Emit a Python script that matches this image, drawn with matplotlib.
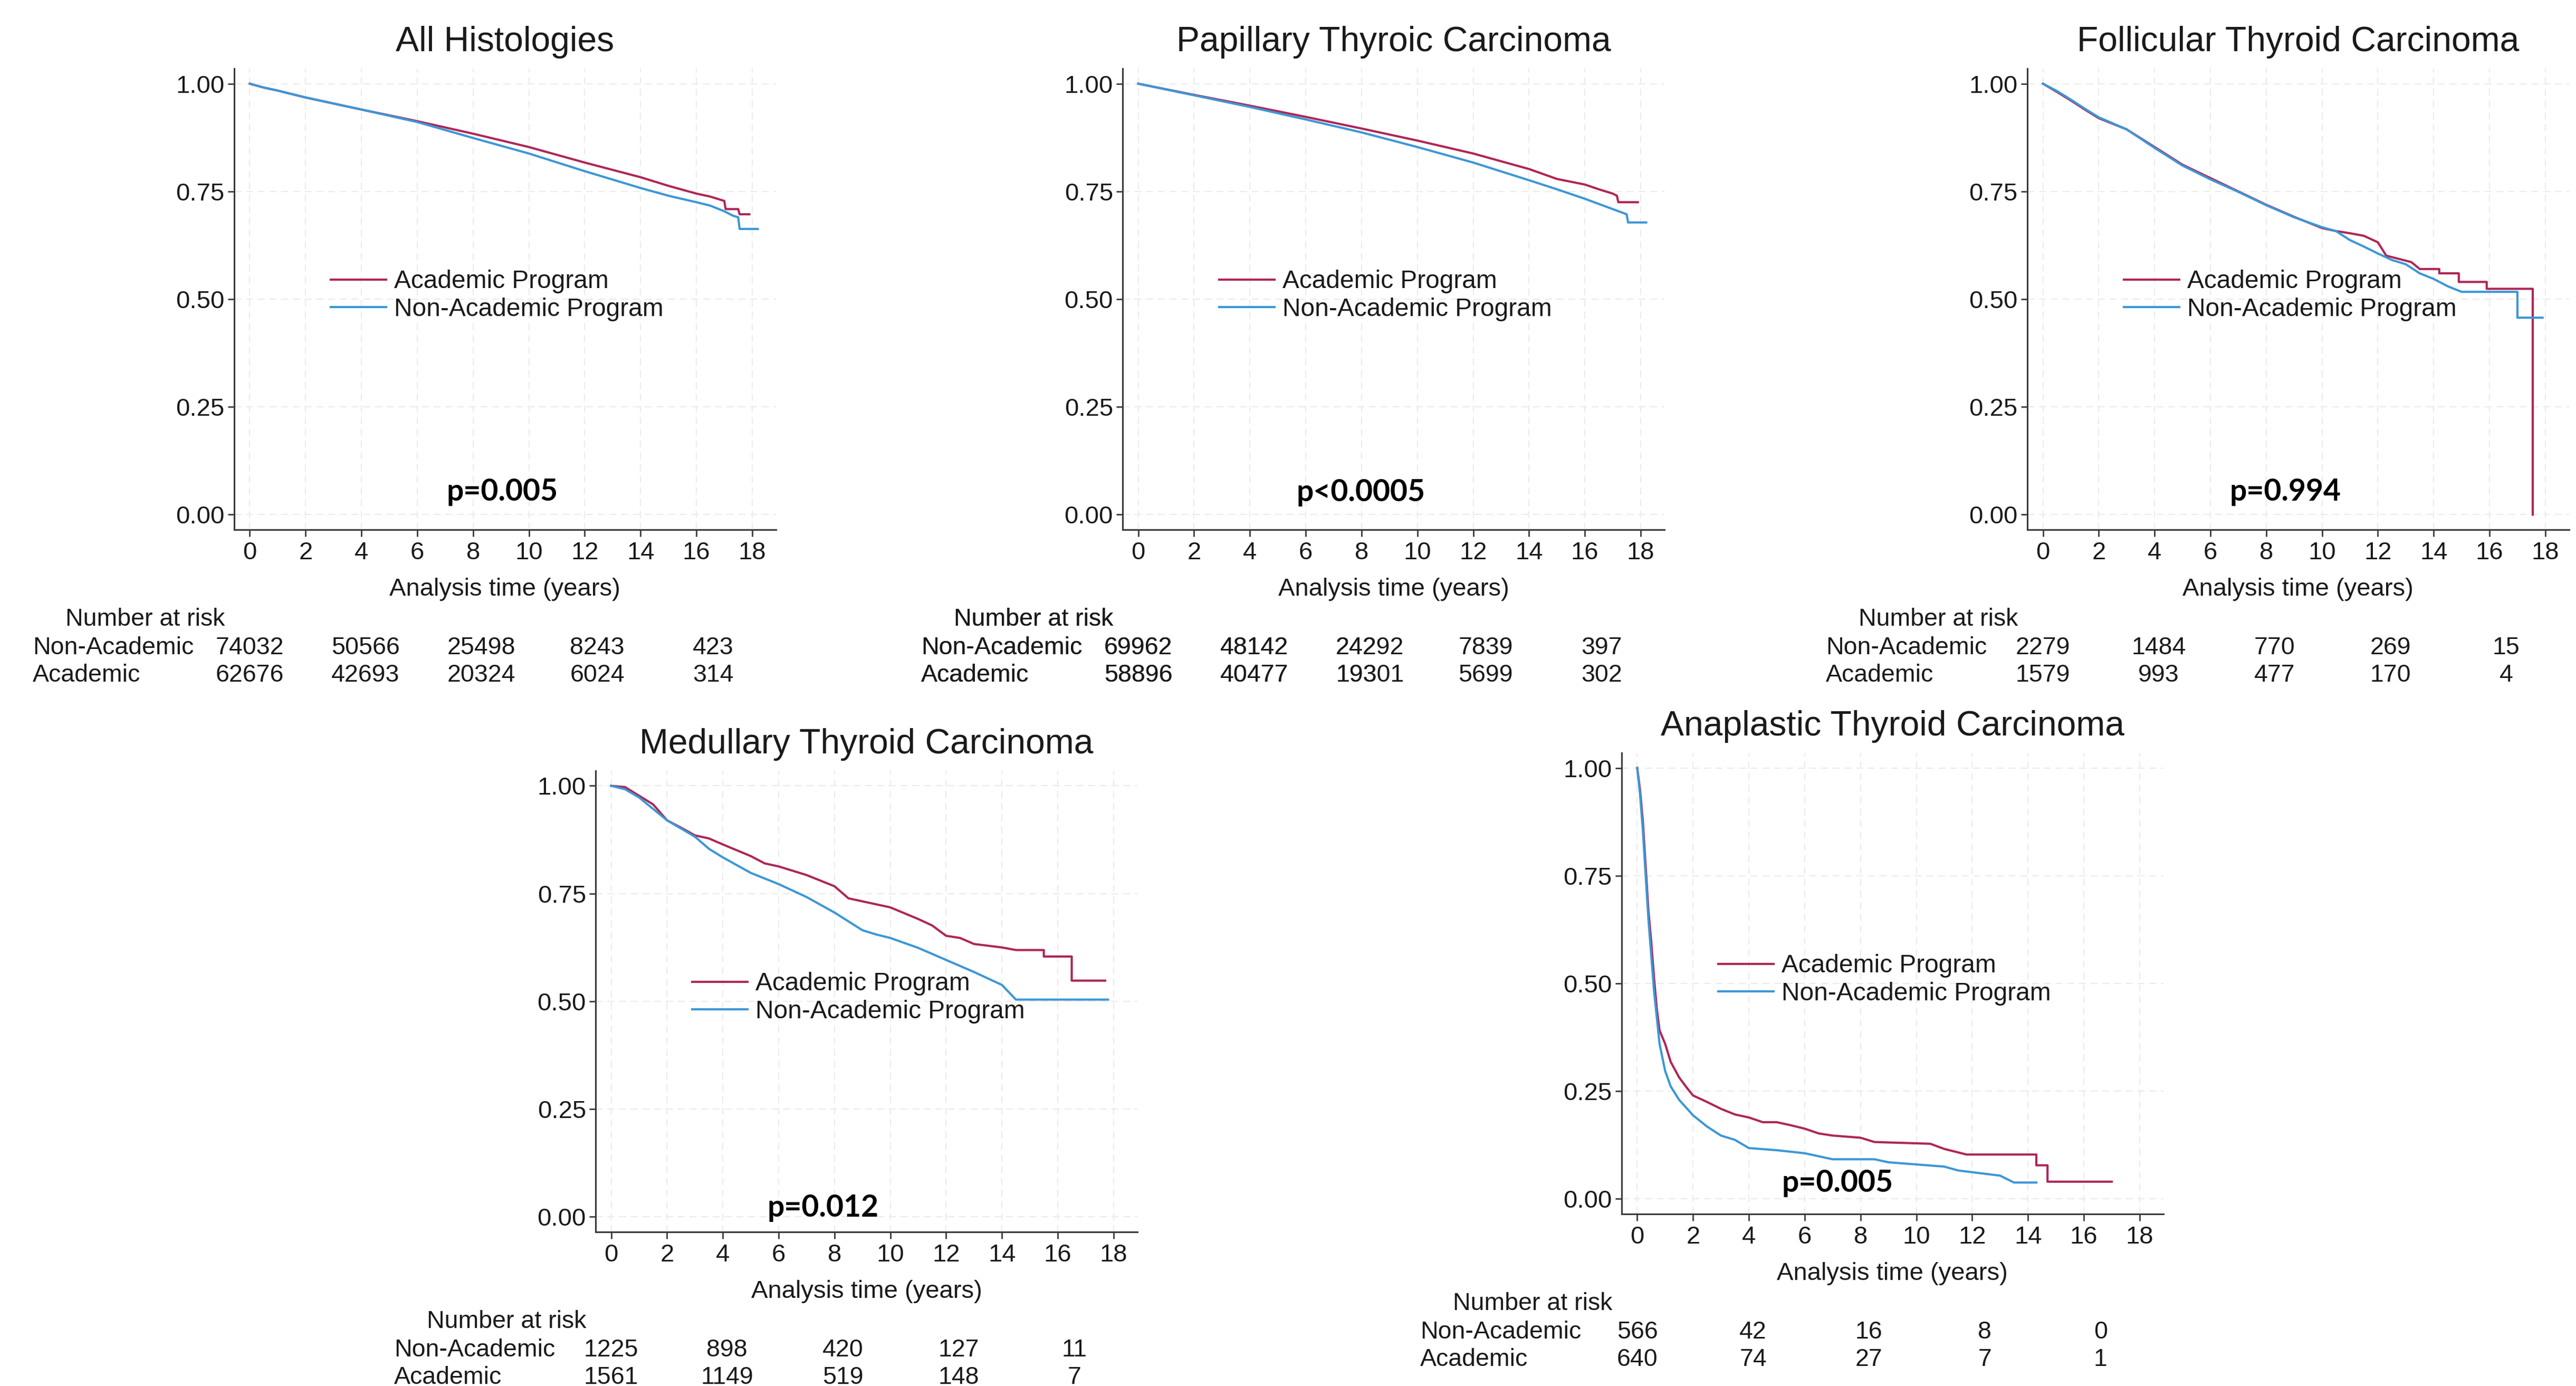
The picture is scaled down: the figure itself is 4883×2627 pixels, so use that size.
import numpy as np
from matplotlib import pyplot as plt
from matplotlib import transforms

# ---- values ----
titles = ["All Histologies", "Papillary Thyroic Carcinoma", "Follicular Thyroid Carcinoma",
          "Medullary Thyroid Carcinoma", "Anaplastic Thyroid Carcinoma"]
p_values = ["p=0.005", "p<0.0005", "p=0.994", "p=0.012", "p=0.005"]

# All histologies
ah_t_acad = [0, 0.5, 1, 2, 4, 6, 8, 10, 12, 14, 15, 16, 16.5, 17.0, 17.05, 17.5, 17.55, 17.9]
ah_s_acad = [1.0, 0.991, 0.984, 0.968, 0.940, 0.913, 0.884, 0.853, 0.817, 0.783, 0.763, 0.745,
             0.738, 0.728, 0.709, 0.709, 0.697, 0.697]
ah_t_non = [0, 0.5, 1, 2, 4, 6, 8, 10, 12, 14, 15, 16, 16.5, 17.0, 17.3, 17.5, 17.55, 18.2]
ah_s_non = [1.0, 0.991, 0.984, 0.968, 0.940, 0.911, 0.874, 0.838, 0.797, 0.758, 0.740, 0.725,
            0.717, 0.704, 0.694, 0.690, 0.663, 0.663]

# Papillary
pt_t_acad = [0, 2, 4, 6, 8, 10, 12, 14, 15, 16, 16.5, 17.0, 17.15, 17.2, 17.9]
pt_s_acad = [1.0, 0.974, 0.949, 0.923, 0.896, 0.868, 0.838, 0.802, 0.779, 0.766, 0.755, 0.745,
             0.740, 0.725, 0.725]
pt_t_non = [0, 2, 4, 6, 8, 10, 12, 14, 15, 16, 17, 17.5, 17.55, 18.2]
pt_s_non = [1.0, 0.973, 0.946, 0.917, 0.887, 0.853, 0.817, 0.776, 0.755, 0.733, 0.709, 0.697,
            0.678, 0.678]

# Follicular
fc_t_acad = [0, 0.5, 1, 1.5, 2, 3, 4, 5, 6, 7, 8, 9, 10, 10.5, 11, 11.5, 12, 12.3, 13.2, 13.5,
             14.2, 14.2, 14.9, 14.9, 15.9, 15.9, 17.55, 17.55]
fc_s_acad = [1.0, 0.981, 0.961, 0.940, 0.920, 0.894, 0.853, 0.812, 0.781, 0.750, 0.719, 0.691,
             0.665, 0.658, 0.653, 0.647, 0.632, 0.601, 0.586, 0.570, 0.570, 0.560, 0.560, 0.540,
             0.540, 0.524, 0.524, 0.0]
fc_t_non = [0, 0.5, 1, 1.5, 2, 3, 4, 5, 6, 7, 8, 9, 10, 10.5, 11, 11.5, 12, 12.5, 13, 13.5, 14,
            14.5, 15, 17.0, 17.0, 17.9]
fc_s_non = [1.0, 0.983, 0.963, 0.942, 0.922, 0.894, 0.851, 0.810, 0.778, 0.749, 0.718, 0.690,
            0.667, 0.658, 0.637, 0.622, 0.606, 0.591, 0.581, 0.560, 0.547, 0.530, 0.517, 0.517,
            0.457, 0.457]

# Medullary
mt_t_acad = [0, 0.5, 1, 1.5, 2, 2.5, 3, 3.5, 4, 5, 5.5, 6, 7, 8, 8.5, 9, 10, 11, 11.5, 12, 12.5,
             13, 14, 14.5, 15.5, 15.5, 16.5, 16.5, 17.7]
mt_s_acad = [1.0, 0.997, 0.977, 0.957, 0.920, 0.903, 0.885, 0.878, 0.864, 0.837, 0.820, 0.813,
             0.793, 0.767, 0.739, 0.732, 0.718, 0.691, 0.676, 0.652, 0.647, 0.633, 0.625, 0.619,
             0.619, 0.604, 0.604, 0.548, 0.548]
mt_t_non = [0, 0.5, 1, 2, 3, 3.5, 4, 5, 6, 7, 8, 9, 9.5, 10, 11, 12, 13, 14, 14.5, 17.8]
mt_s_non = [1.0, 0.992, 0.973, 0.920, 0.882, 0.854, 0.834, 0.798, 0.772, 0.742, 0.706, 0.665,
            0.655, 0.647, 0.624, 0.596, 0.568, 0.538, 0.504, 0.504]

# Anaplastic
at_t_acad = [0, 0.1, 0.2, 0.3, 0.4, 0.5, 0.6, 0.7, 0.8, 1.0, 1.2, 1.5, 1.8, 2.0, 2.5, 3.0, 3.5,
             4.0, 4.5, 5.0, 5.5, 6.0, 6.5, 7.0, 8.0, 8.5, 10.5, 11.0, 11.8, 14.3, 14.3, 14.7,
             14.7, 17.0]
at_s_acad = [1.0, 0.95, 0.878, 0.774, 0.670, 0.598, 0.515, 0.442, 0.391, 0.360, 0.318, 0.282,
             0.256, 0.240, 0.225, 0.209, 0.196, 0.189, 0.178, 0.178, 0.171, 0.163, 0.152, 0.147,
             0.142, 0.132, 0.128, 0.116, 0.103, 0.103, 0.078, 0.078, 0.040, 0.040]
at_t_non = [0, 0.1, 0.2, 0.3, 0.4, 0.5, 0.6, 0.7, 0.8, 1.0, 1.2, 1.5, 2.0, 2.5, 3.0, 3.5, 4.0,
            5.0, 6.0, 7.0, 8.5, 9.0, 10.0, 11.0, 11.5, 13.0, 13.5, 14.3]
at_s_non = [1.0, 0.94, 0.857, 0.753, 0.65, 0.567, 0.484, 0.422, 0.360, 0.297, 0.261, 0.230,
            0.194, 0.168, 0.147, 0.137, 0.118, 0.113, 0.106, 0.092, 0.092, 0.085, 0.080, 0.075,
            0.066, 0.054, 0.038, 0.038]

# number at risk tables
risk_non = [[74032, 50566, 25498, 8243, 423],
            [69962, 48142, 24292, 7839, 397],
            [2279, 1484, 770, 269, 15],
            [1225, 898, 420, 127, 11],
            [566, 42, 16, 8, 0]]
risk_acad = [[62676, 42693, 20324, 6024, 314],
             [58896, 40477, 19301, 5699, 302],
             [1579, 993, 477, 170, 4],
             [1561, 1149, 519, 148, 7],
             [640, 74, 27, 7, 1]]

curves = [(ah_t_acad, ah_s_acad, ah_t_non, ah_s_non),
          (pt_t_acad, pt_s_acad, pt_t_non, pt_s_non),
          (fc_t_acad, fc_s_acad, fc_t_non, fc_s_non),
          (mt_t_acad, mt_s_acad, mt_t_non, mt_s_non),
          (at_t_acad, at_s_acad, at_t_non, at_s_non)]

# ---- layout ----
axes_pos = [(0.0909, 0.6178), (0.4358, 0.6178), (0.7870, 0.6178), (0.2312, 0.1112), (0.6295, 0.1241)]
ax_w, ax_h = 0.2103, 0.3327
p_pos = [(9.05, 0.053), (7.97, 0.051), (8.68, 0.053), (7.58, 0.02), (7.18, 0.036)]
risk_x = [0, 4.15, 8.3, 12.45, 16.6]
red = "#AE2657"
blue = "#3C97D5"
grid_c = "#ECECEC"
txt_c = "#1a1a1a"

plt.rcParams['font.family'] = ['Liberation Sans', 'DejaVu Sans']

fig = plt.figure(figsize=(48.83, 26.27), dpi=100)

# the original composite cut off the bottom of the top-right risk tables:
# a text stays visible left of xc or above yc
xc, yc = 2611 / 4883, 1 - 1294 / 2627
box_left = transforms.TransformedBbox(transforms.Bbox.from_extents(0, 0, xc, 1), fig.transFigure)
box_top = transforms.TransformedBbox(transforms.Bbox.from_extents(0, yc, 1, 1), fig.transFigure)


def risk_text(ax, x, y, s, clipped, **kw):
    if not clipped:
        ax.text(x, y, s, fontsize=33.5, color=txt_c, va="center", **kw)
        return
    for box in (box_left, box_top):
        t = ax.text(x, y, s, fontsize=33.5, color=txt_c, va="center", **kw)
        t.set_clip_box(box)
        t.set_clip_on(True)


for i in range(5):
    ax = fig.add_axes([axes_pos[i][0], axes_pos[i][1], ax_w, ax_h])
    ta, sa, tn, sn = curves[i]
    ax.plot(ta, sa, color=red, lw=3, label="Academic Program", zorder=3)
    ax.plot(tn, sn, color=blue, lw=3, label="Non-Academic Program", zorder=3)

    ax.set_xlim(-0.56, 18.85)
    ax.set_ylim(-0.035, 1.035)
    ax.set_xticks(np.arange(0, 19, 2))
    ax.set_yticks([0, 0.25, 0.5, 0.75, 1.0])
    ax.set_yticklabels(["0.00", "0.25", "0.50", "0.75", "1.00"])
    ax.grid(True, color=grid_c, lw=1.6, ls=(0, (6, 4)))
    ax.set_axisbelow(True)
    for s in ["top", "right"]:
        ax.spines[s].set_visible(False)
    for s in ["left", "bottom"]:
        ax.spines[s].set_color("#3a3a3a")
        ax.spines[s].set_linewidth(2.2)
    ax.tick_params(axis="both", length=9, width=2, color="#3a3a3a", labelsize=34,
                   labelcolor=txt_c)
    ax.tick_params(axis="x", pad=7)
    ax.tick_params(axis="y", pad=4)

    ax.text(0.5, 1.057, titles[i], transform=ax.transAxes, ha="center", va="center",
            fontsize=47.5, color=txt_c)
    ax.text(0.5, -0.129, "Analysis time (years)", transform=ax.transAxes, ha="center",
            va="center", fontsize=34, color=txt_c)
    ax.text(p_pos[i][0], p_pos[i][1], p_values[i], ha="center", va="center", fontsize=41,
            fontweight="bold", family=["Lato", "DejaVu Sans"], color="black")

    leg = ax.legend(loc="upper left", bbox_to_anchor=(2.9, 0.568), bbox_transform=ax.transData,
                    frameon=False, fontsize=34.5, handlelength=2.2, handletextpad=0.3,
                    labelspacing=0.16, borderpad=0, borderaxespad=0)
    for t in leg.get_texts():
        t.set_color(txt_c)

    # number at risk table
    bt = transforms.blended_transform_factory(ax.transData, ax.transAxes)
    cut = i in (1, 2)
    risk_text(ax, -0.0175, -0.195, "Number at risk", cut, transform=ax.transAxes, ha="right")
    risk_text(ax, -0.372, -0.256, "Non-Academic", cut, transform=ax.transAxes, ha="left")
    risk_text(ax, -0.372, -0.316, "Academic", cut, transform=ax.transAxes, ha="left")
    for k in range(5):
        risk_text(ax, risk_x[k], -0.256, str(risk_non[i][k]), cut, transform=bt, ha="center")
        risk_text(ax, risk_x[k], -0.316, str(risk_acad[i][k]), cut, transform=bt, ha="center")

fig.savefig("out.png", dpi=100, facecolor="white")
